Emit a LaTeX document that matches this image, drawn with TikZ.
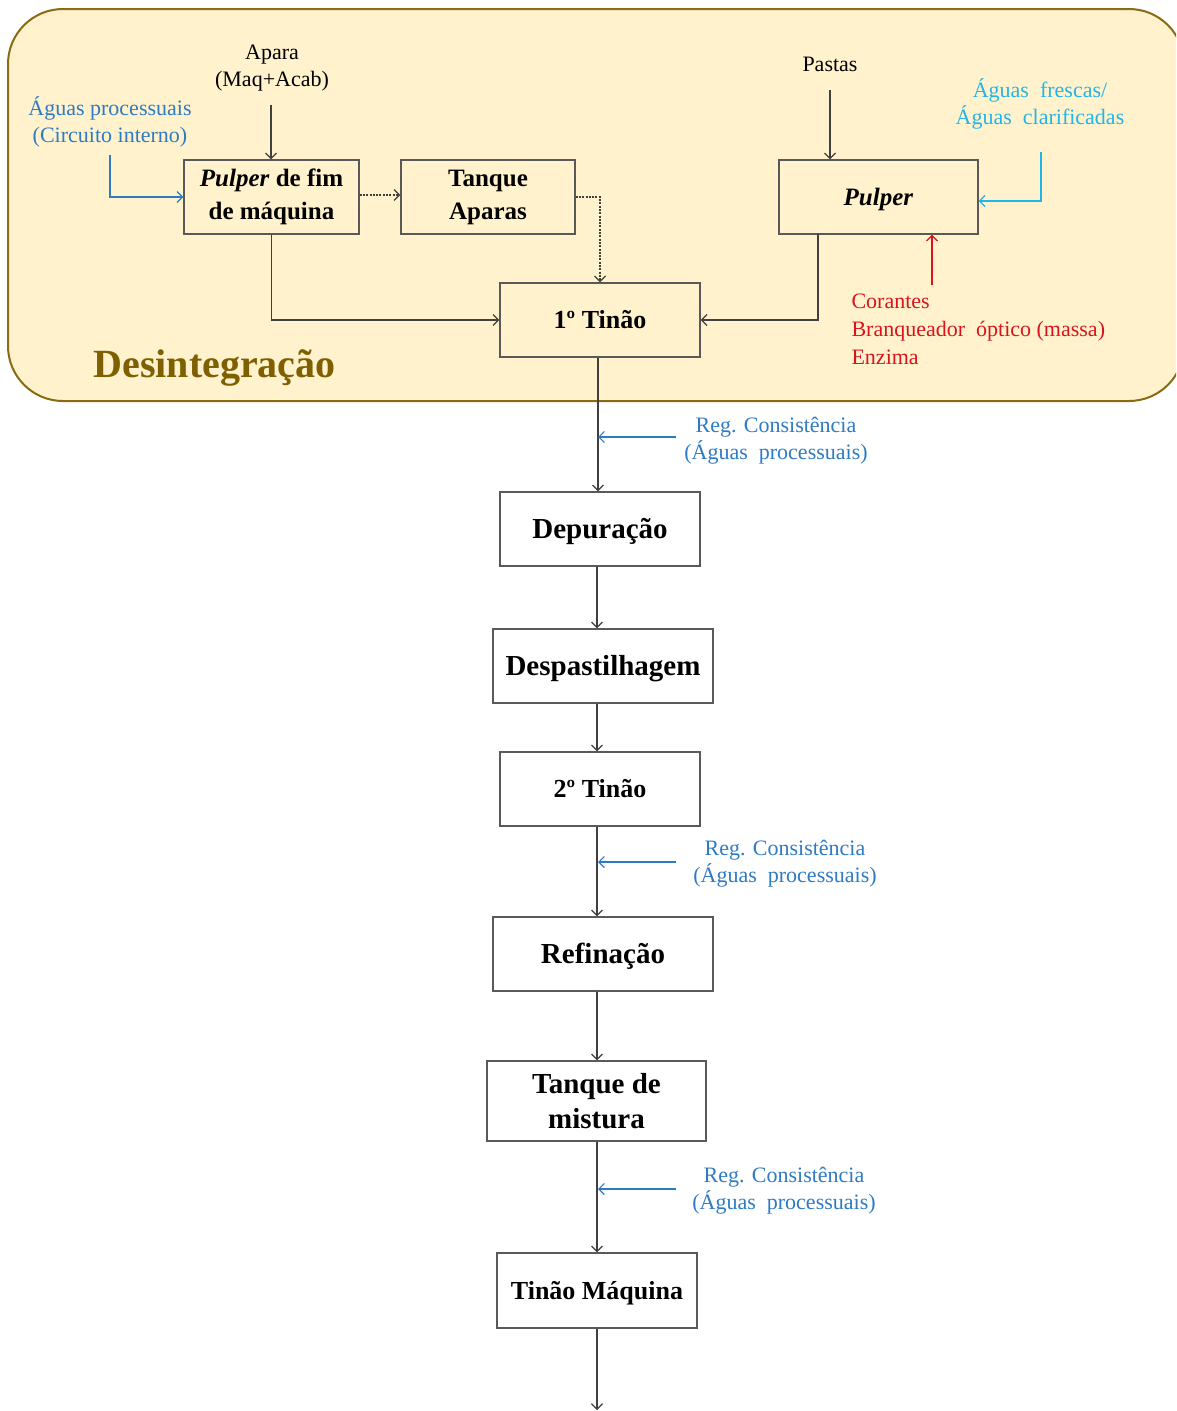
\documentclass[tikz,border=0pt]{standalone}
\usepackage{fontspec}
\setmainfont{Liberation Serif}
\usetikzlibrary{arrows.meta,calc}
\definecolor{bgfill}{HTML}{FFF2CC}
\definecolor{bgline}{HTML}{8A6B12}
\definecolor{titlecol}{HTML}{7F6000}
\definecolor{linecol}{HTML}{404040}
\definecolor{boxline}{HTML}{595959}
\definecolor{procblue}{HTML}{2E7BC4}
\definecolor{freshcyan}{HTML}{22B5E8}
\definecolor{addred}{HTML}{D9141E}
\begin{document}
\begin{tikzpicture}[x=1pt,y=-1pt,
  tip/.style={-{Straight Barb[length=5.5pt,width=11pt,line width=1.2pt]}},
  box/.style={draw=boxline, line width=1.3pt, align=center, inner sep=0pt},
  oneline/.style={text height=#1, text depth=0pt},
  topbox/.style={box, minimum height=74pt, font=\fontsize{25}{33}\selectfont\bfseries},
  lowbox/.style={box, oneline=19.5pt, fill=white, minimum height=74pt, font=\fontsize{29}{35}\selectfont\bfseries},
  tinbox/.style={box, oneline=17.5pt, fill=white, minimum height=74pt, font=\fontsize{26}{33}\selectfont\bfseries},
  label/.style={align=center, font=\fontsize{22}{27}\selectfont},
  flow/.style={tip, draw=linecol, line width=1.3pt},
  dotflow/.style={flow, dash pattern=on 2pt off 1.3pt},
  blueflow/.style={tip, draw=procblue, line width=1.3pt},
  cyanflow/.style={tip, draw=freshcyan, line width=1.3pt},
  redflow/.style={tip, draw=addred, line width=1.3pt},
]
\useasboundingbox (0,0) rectangle (1176,1411);
\fill[white] (0,0) rectangle (1176,1411);

% disintegration area
\begin{scope}
\clip (0,0) rectangle (1176,1411);
\draw[fill=bgfill, draw=bgline, line width=2pt, rounded corners=55pt] (8,9) rectangle (1184,401);
\end{scope}
\node[anchor=base west, text=titlecol, font=\fontsize{40}{44}\selectfont\bfseries] (title) at (90,377) {Desintegração};

% process boxes
\node[topbox, minimum width=175pt] (pfm) at (271.5,197) {\textit{Pulper} de fim\\de máquina};
\node[topbox, minimum width=174pt] (ta) at (488,197) {Tanque\\Aparas};
\node[topbox, oneline=17pt, minimum width=199pt] (pulp) at (878.5,197) {\textit{Pulper}};
\node[tinbox, fill=bgfill, minimum width=200pt] (t1) at (600,320) {1º Tinão};
\node[lowbox, minimum width=200pt] (dep) at (600,529) {Depuração};
\node[lowbox, minimum width=220pt] (desp) at (603,666) {Despastilhagem};
\node[tinbox, minimum width=200pt] (t2) at (600,789) {2º Tinão};
\node[lowbox, minimum width=220pt] (ref) at (603,954) {Refinação};
\node[box, fill=white, minimum width=219pt, minimum height=80pt, font=\fontsize{29}{35}\selectfont\bfseries] (mix) at (596.5,1101) {Tanque de\\mistura};
\node[tinbox, minimum width=200pt, minimum height=75pt] (tm) at (597,1290.5) {Tinão Máquina};

% inputs
\node[label] (apara) at (272,68) {Apara\\(Maq+Acab)};
\node[label, text=procblue] (aguasint) at (110,122) {Águas processuais\\(Circuito interno)};
\node[label] (pastas) at (830,64) {Pastas};
\node[label, text=freshcyan] (fresh) at (1040,104) {Águas\ \ frescas/\\Águas\ \ clarificadas};
\node[anchor=north west, align=left, text=addred, font=\fontsize{22}{28}\selectfont] (aditivos) at (848,290)
  {Corantes\\Branqueador\ \ óptico (massa)\\Enzima};
\node[label, text=procblue] (reg1) at (776,441) {Reg. Consistência\\(Águas\ \ processuais)};
\node[label, text=procblue] (reg2) at (785,864) {Reg. Consistência\\(Águas\ \ processuais)};
\node[label, text=procblue] (reg3) at (784,1191) {Reg. Consistência\\(Águas\ \ processuais)};

\coordinate (aparaend) at (271,105);
\coordinate (aguasend) at (110,155);
\coordinate (pastasend) at (830,90);
\coordinate (freshend) at (1041,152);
\coordinate (redend) at (932,285);
\coordinate (pulpout) at (818,234);
\coordinate (rc1) at (676,437);
\coordinate (rc2) at (676,862);
\coordinate (rc3) at (676,1189);
\coordinate (exit) at (597,1410);

% disintegration connectors
\draw[flow] (aparaend) -- (aparaend |- pfm.north);
\draw[blueflow] (aguasend) |- (pfm.west);
\draw[flow] (pastasend) -- (pastasend |- pulp.north);
\draw[cyanflow] (freshend) |- ($(pulp.east)+(0,4)$);
\draw[redflow] (redend) -- (redend |- pulp.south);
\draw[dotflow] ($(pfm.east)+(0,-2)$) -- ($(ta.west)+(0,-2)$);
\draw[dotflow] (ta.east) -| (t1.north);
\draw[flow] (pfm.south) |- (t1.west);
\draw[flow] (pulpout) |- (t1.east);

% main line
\draw[flow] ($(t1.south)+(-2,0)$) -- ($(dep.north)+(-2,0)$);
\draw[flow] ($(dep.south)+(-3,0)$) -- ($(dep.south |- desp.north)+(-3,0)$);
\draw[flow] ($(desp.south)+(-6,0)$) -- ($(desp.south |- t2.north)+(-6,0)$);
\draw[flow] ($(t2.south)+(-3,0)$) -- ($(t2.south |- ref.north)+(-3,0)$);
\draw[flow] ($(ref.south)+(-6,0)$) -- ($(ref.south |- mix.north)+(-6,0)$);
\draw[flow] ($(mix.south)+(0.5,0)$) -- ($(mix.south |- tm.north)+(0.5,0)$);
\draw[flow] (tm.south) -- (exit);

% consistency water
\draw[blueflow] (rc1) -- (598,437);
\draw[blueflow] (rc2) -- (598,862);
\draw[blueflow] (rc3) -- (598,1189);
\end{tikzpicture}
\end{document}
